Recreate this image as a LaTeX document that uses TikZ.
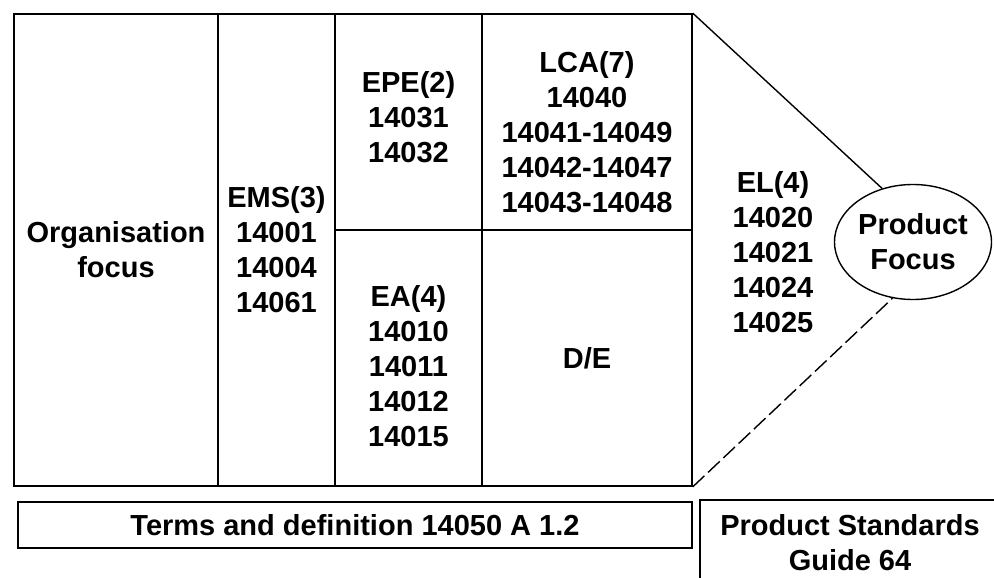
\documentclass[tikz,border=0pt]{standalone}
\usepackage{fontspec}
\setmainfont{Liberation Sans}
\usetikzlibrary{shapes.geometric}
\newcommand{\bigtxt}{\fontsize{29}{35}\selectfont\bfseries}

\begin{document}
\begin{tikzpicture}[x=1pt, y=-1pt,
  cell/.style={draw, line width=1.6pt, inner sep=0pt, align=center, font=\bigtxt},
  lbl/.style={align=center, font=\bigtxt},
  focus/.style={draw, ellipse, line width=1.4pt, minimum width=157pt, minimum height=115pt, inner sep=0pt, align=center, font=\bigtxt},
  link/.style={line width=1.4pt}
]
  \useasboundingbox (0,0) rectangle (994,578);
  \node[cell, minimum width=204pt, minimum height=472pt] (org) at (116,250) {Organisation\\focus};
  \node[cell, minimum width=117pt, minimum height=472pt] (ems) at (276.5,250) {EMS(3)\\14001\\14004\\14061};
  \node[cell, minimum width=147pt, minimum height=216pt] (epe) at (408.5,122) {};
  \node[lbl] (epetxt) at (408.5,117) {EPE(2)\\14031\\14032};
  \node[cell, minimum width=210pt, minimum height=216pt] (lca) at (587,122) {};
  \node[lbl] (lcatxt) at (587,132) {LCA(7)\\14040\\14041-14049\\14042-14047\\14043-14048};
  \node[cell, minimum width=147pt, minimum height=256pt] (ea) at (408.5,358) {};
  \node[lbl] (eatxt) at (408.5,366) {EA(4)\\14010\\14011\\14012\\14015};
  \node[cell, minimum width=210pt, minimum height=256pt] (de) at (587,358) {D/E};
  \node[lbl] (el) at (773,252) {EL(4)\\14020\\14021\\14024\\14025};
  \node[focus] (pf) at (913,242) {Product\\Focus};
  \draw[link] (lca.north east) -- (pf.120);
  \draw[link, dash pattern=on 16pt off 5pt] (de.south east) -- (pf.250);
  \node[cell, minimum width=674pt, minimum height=46pt] (terms) at (355,525) {Terms and definition 14050 A 1.2};
  \draw[line width=1.6pt] (994,500) -| (700,578);
  \node[lbl] (psg) at (850,543) {Product Standards\\Guide 64};
\end{tikzpicture}
\end{document}
